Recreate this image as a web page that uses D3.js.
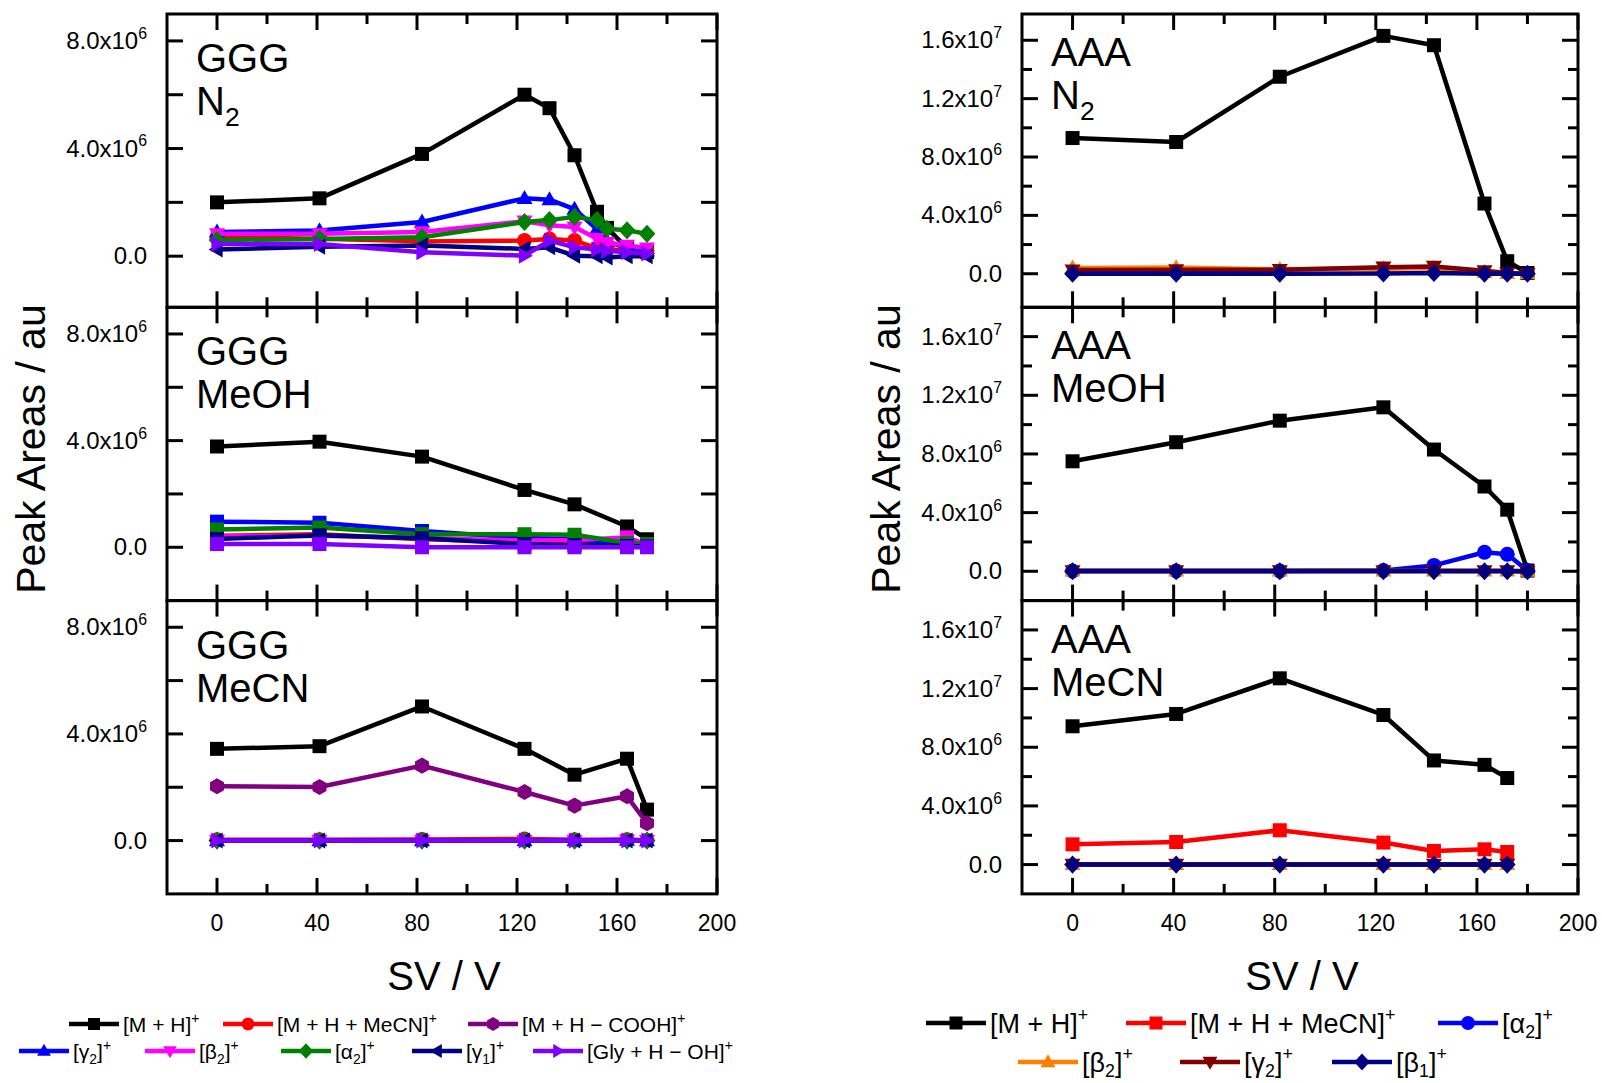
<!DOCTYPE html>
<html lang="en">
<head>
<meta charset="utf-8">
<style>
body { margin: 0; background: #fff; }
svg { display: block; font-family: "Liberation Sans", Arial, sans-serif; }
.frame { fill: none; stroke: #000; stroke-width: 3; }
.tick { stroke: #000; stroke-width: 3; }
.series path.line { fill: none; stroke-width: 4.5; stroke-linejoin: round; }
</style>
</head>
<body>
<script src="https://cdn.jsdelivr.net/npm/d3@7"></script>
<script>

// all peak areas are in units of 1e6 au

// ---- GGG, N2 ----
var gggN2SV    = [0, 41, 82, 123, 133, 143, 152, 156, 164, 172];
var gggN2MH    = [2.0, 2.15, 3.8, 6.0, 5.5, 3.75, 1.65, 1.05, 0.3, 0.15];
var gggN2MeCN  = [0.7, 0.65, 0.55, 0.58, 0.64, 0.58, 0.3, 0.25, 0.22, 0.2];
var gggN2G2    = [0.9, 0.95, 1.27, 2.15, 2.1, 1.75, 1.0, 0.55, 0.3, 0.2];
var gggN2B2    = [0.83, 0.83, 0.9, 1.3, 1.15, 1.08, 0.65, 0.5, 0.4, 0.3];
var gggN2A2    = [0.6, 0.64, 0.7, 1.27, 1.34, 1.46, 1.34, 1.02, 0.96, 0.83];
var gggN2G1    = [0.25, 0.35, 0.4, 0.27, 0.33, 0.02, 0.0, -0.05, 0.0, 0.0];
var gggN2Gly   = [0.45, 0.45, 0.15, 0.02, 0.58, 0.33, 0.25, 0.2, 0.15, 0.1];

// ---- GGG, MeOH ----
var gggMeOHSV   = [0, 41, 82, 123, 143, 164, 172];
var gggMeOHMH   = [3.78, 3.96, 3.4, 2.15, 1.61, 0.78, 0.3];
var gggMeOHMeCN = [0.43, 0.49, 0.3, 0.2, 0.2, 0.1, 0.05];
var gggMeOHG2   = [0.96, 0.92, 0.61, 0.35, 0.3, 0.1, 0.05];
var gggMeOHB2   = [0.4, 0.43, 0.35, 0.25, 0.27, 0.37, 0.1];
var gggMeOHA2   = [0.67, 0.74, 0.49, 0.49, 0.47, 0.16, 0.12];
var gggMeOHG1   = [0.31, 0.45, 0.34, 0.12, 0.08, 0.05, 0.03];
var gggMeOHGly  = [0.12, 0.12, 0.0, 0.0, 0.0, 0.0, 0.0];

// ---- GGG, MeCN ----
var gggMeCNSV   = [0, 41, 82, 123, 143, 164, 172];
var gggMeCNMH   = [3.44, 3.54, 5.03, 3.44, 2.47, 3.07, 1.16];
var gggMeCNMeCN = [0.03, 0.03, 0.04, 0.06, 0.03, 0.03, 0.01];
var gggMeCNCOOH = [2.04, 2.01, 2.81, 1.82, 1.31, 1.66, 0.65];
var gggMeCNG2   = [0.0, 0.0, 0.0, 0.0, 0.0, 0.02, 0.0];
var gggMeCNB2   = [0.01, 0.01, 0.01, 0.0, 0.0, 0.03, 0.0];
var gggMeCNA2   = [0.0, 0.0, 0.0, 0.0, 0.0, 0.0, 0.0];
var gggMeCNG1   = [0.0, 0.0, 0.0, 0.0, 0.0, 0.0, 0.0];
var gggMeCNGly  = [0.0, 0.0, 0.0, 0.0, 0.0, 0.0, 0.0];

// ---- AAA, N2 ----
var aaaN2SV   = [0, 41, 82, 123, 143, 163, 172, 180];
var aaaN2MH   = [9.3, 9.03, 13.5, 16.3, 15.66, 4.81, 0.86, 0.05];
var aaaN2B2   = [0.4, 0.42, 0.3, 0.35, 0.4, 0.1, 0.02, 0.0];
var aaaN2G2   = [0.25, 0.27, 0.28, 0.45, 0.5, 0.2, 0.05, 0.0];
var aaaN2B1   = [0.0, 0.0, 0.0, 0.02, 0.05, 0.0, 0.0, 0.0];

// ---- AAA, MeOH ----
var aaaMeOHSV = [0, 41, 82, 123, 143, 163, 172, 180];
var aaaMeOHMH = [7.5, 8.8, 10.27, 11.18, 8.3, 5.78, 4.2, 0.05];
var aaaMeOHA2 = [0.02, 0.02, 0.02, 0.05, 0.4, 1.3, 1.16, 0.05];
var aaaMeOHB2 = [0.02, 0.02, 0.02, 0.02, 0.02, 0.02, 0.02, 0.0];
var aaaMeOHG2 = [0.03, 0.03, 0.03, 0.03, 0.03, 0.03, 0.03, 0.0];
var aaaMeOHB1 = [0.0, 0.0, 0.0, 0.0, 0.0, 0.0, 0.0, 0.0];

// ---- AAA, MeCN ----
var aaaMeCNSV   = [0, 41, 82, 123, 143, 163, 172];
var aaaMeCNMH   = [9.43, 10.27, 12.7, 10.2, 7.1, 6.8, 5.9];
var aaaMeCNMeCN = [1.38, 1.54, 2.34, 1.5, 0.93, 1.04, 0.86];
var aaaMeCNB2   = [0.02, 0.02, 0.02, 0.02, 0.02, 0.02, 0.02];
var aaaMeCNG2   = [0.01, 0.01, 0.01, 0.01, 0.01, 0.01, 0.01];
var aaaMeCNB1   = [0.0, 0.0, 0.0, 0.0, 0.0, 0.0, 0.0];

// axis ticks
var xMajor = [0, 40, 80, 120, 160, 200];
var xMinor = [20, 60, 100, 140, 180];
var gggYTicks = [0, 2, 4, 6, 8];
var gggYLabels = [0, 4, 8];
var aaaYMajor = [0, 4, 8, 12, 16];
var aaaYMinor = [2, 6, 10, 14];

// series look
var gggSeries = [
  {key: "MH",   color: "#000000", shape: "square",   label: [["[M + H]", ""], ["+", "sup"]]},
  {key: "MeCN", color: "#ff0000", shape: "circle",   label: [["[M + H + MeCN]", ""], ["+", "sup"]]},
  {key: "COOH", color: "#800080", shape: "hexagon",  label: [["[M + H \u2212 COOH]", ""], ["+", "sup"]]},
  {key: "G2",   color: "#0000ff", shape: "triUp",    label: [["[\u03b3", ""], ["2", "sub"], ["]", ""], ["+", "sup"]]},
  {key: "B2",   color: "#ff00ff", shape: "triDown",  label: [["[\u03b2", ""], ["2", "sub"], ["]", ""], ["+", "sup"]]},
  {key: "A2",   color: "#008000", shape: "diamond",  label: [["[\u03b1", ""], ["2", "sub"], ["]", ""], ["+", "sup"]]},
  {key: "G1",   color: "#000080", shape: "triLeft",  label: [["[\u03b3", ""], ["1", "sub"], ["]", ""], ["+", "sup"]]},
  {key: "Gly",  color: "#8000ff", shape: "triRight", label: [["[Gly + H \u2212 OH]", ""], ["+", "sup"]]}
];
var aaaSeries = [
  {key: "MH",   color: "#000000", shape: "square",  label: [["[M + H]", ""], ["+", "sup"]]},
  {key: "MeCN", color: "#ff0000", shape: "square",  label: [["[M + H + MeCN]", ""], ["+", "sup"]]},
  {key: "A2",   color: "#0000ff", shape: "circle",  label: [["[\u03b1", ""], ["2", "sub"], ["]", ""], ["+", "sup"]]},
  {key: "B2",   color: "#ff8000", shape: "triUp",   label: [["[\u03b2", ""], ["2", "sub"], ["]", ""], ["+", "sup"]]},
  {key: "G2",   color: "#800000", shape: "triDown", label: [["[\u03b3", ""], ["2", "sub"], ["]", ""], ["+", "sup"]]},
  {key: "B1",   color: "#000080", shape: "diamond", label: [["[\u03b2", ""], ["1", "sub"], ["]", ""], ["+", "sup"]]}
];

var panels = [
  {side: "L", row: 0, sv: gggN2SV, yDomain: [-1.9, 9], title: [["GGG", ""]], title2: [["N", ""], ["2", "sub"]],
   vals: {MH: gggN2MH, MeCN: gggN2MeCN, G2: gggN2G2, B2: gggN2B2, A2: gggN2A2, G1: gggN2G1, Gly: gggN2Gly}},
  {side: "L", row: 1, sv: gggMeOHSV, yDomain: [-2, 9], title: [["GGG", ""]], title2: [["MeOH", ""]], allSquares: true,
   vals: {MH: gggMeOHMH, MeCN: gggMeOHMeCN, G2: gggMeOHG2, B2: gggMeOHB2, A2: gggMeOHA2, G1: gggMeOHG1, Gly: gggMeOHGly}},
  {side: "L", row: 2, sv: gggMeCNSV, yDomain: [-2, 9], title: [["GGG", ""]], title2: [["MeCN", ""]],
   vals: {MH: gggMeCNMH, MeCN: gggMeCNMeCN, COOH: gggMeCNCOOH, G2: gggMeCNG2, B2: gggMeCNB2, A2: gggMeCNA2, G1: gggMeCNG1, Gly: gggMeCNGly}},
  {side: "R", row: 0, sv: aaaN2SV, yDomain: [-2.3, 17.8], title: [["AAA", ""]], title2: [["N", ""], ["2", "sub"]],
   vals: {MH: aaaN2MH, B2: aaaN2B2, G2: aaaN2G2, B1: aaaN2B1}},
  {side: "R", row: 1, sv: aaaMeOHSV, yDomain: [-2, 18], title: [["AAA", ""]], title2: [["MeOH", ""]],
   vals: {MH: aaaMeOHMH, A2: aaaMeOHA2, B2: aaaMeOHB2, G2: aaaMeOHG2, B1: aaaMeOHB1}},
  {side: "R", row: 2, sv: aaaMeCNSV, yDomain: [-2, 18], title: [["AAA", ""]], title2: [["MeCN", ""]],
   vals: {MH: aaaMeCNMH, MeCN: aaaMeCNMeCN, B2: aaaMeCNB2, G2: aaaMeCNG2, B1: aaaMeCNB1}}
];

var width = 1602, height = 1083;
var top0 = 14, rowH = 293.3;

var xL = d3.scaleLinear().domain([-20, 200]).range([167, 717]);
var xR = d3.scaleLinear().domain([-20, 200]).range([1022, 1578]);

var svg = d3.select("body").append("svg")
    .attr("width", width)
    .attr("height", height);

// text with sub/superscripts
function rich(sel, parts, size, subShift) {
  var shift = 0;
  parts.forEach(function(p) {
    var target = p[1] === "sup" ? -0.42 * size : (p[1] === "sub" ? (subShift || 0.28) * size : 0);
    sel.append("tspan")
        .attr("dy", target - shift)
        .attr("font-size", p[1] ? size * 0.66 : size)
        .text(p[0]);
    shift = target;
  });
}

function shapePath(shape, r) {
  switch (shape) {
    case "square": return "M" + (-r) + "," + (-r) + "h" + 2 * r + "v" + 2 * r + "h" + (-2 * r) + "Z";
    case "circle": return d3.symbol(d3.symbolCircle, Math.PI * r * r * 1.15)();
    case "triUp": return "M0," + (-1.2 * r) + "L" + (1.15 * r) + "," + (0.8 * r) + "L" + (-1.15 * r) + "," + (0.8 * r) + "Z";
    case "triDown": return "M0," + (1.2 * r) + "L" + (1.15 * r) + "," + (-0.8 * r) + "L" + (-1.15 * r) + "," + (-0.8 * r) + "Z";
    case "triLeft": return "M" + (-1.2 * r) + ",0L" + (0.8 * r) + "," + (-1.15 * r) + "L" + (0.8 * r) + "," + (1.15 * r) + "Z";
    case "triRight": return "M" + (1.2 * r) + ",0L" + (-0.8 * r) + "," + (-1.15 * r) + "L" + (-0.8 * r) + "," + (1.15 * r) + "Z";
    case "diamond": return "M0," + (-1.3 * r) + "L" + (1.2 * r) + ",0L0," + (1.3 * r) + "L" + (-1.2 * r) + ",0Z";
    case "hexagon":
      var pts = d3.range(6).map(function(i) {
        var a = Math.PI / 2 + i * Math.PI / 3;
        return [1.15 * r * Math.cos(a), -1.15 * r * Math.sin(a)];
      });
      return "M" + pts.join("L") + "Z";
  }
}

function fmtY(v) {
  if (v === 0) return [["0.0", ""]];
  var e = Math.floor(Math.log10(v * 1e6) + 1e-9);
  var m = v * 1e6 / Math.pow(10, e);
  return [[m.toFixed(1) + "x10", ""], [String(e), "sup"]];
}

panels.forEach(function(p) {
  var x = p.side === "L" ? xL : xR;
  var yTop = top0 + p.row * rowH, yBot = yTop + rowH;
  var y = d3.scaleLinear()
      .domain(p.yDomain)
      .range([yBot, yTop]);
  var seriesDefs = p.side === "L" ? gggSeries : aaaSeries;
  var x0 = x.range()[0], x1 = x.range()[1];

  var g = svg.append("g");

  // ticks, all pointing inward
  var ticks = g.append("g");
  function xTick(v, len) {
    ticks.append("line").attr("class", "tick")
        .attr("x1", x(v)).attr("x2", x(v)).attr("y1", yBot).attr("y2", yBot - len);
    ticks.append("line").attr("class", "tick")
        .attr("x1", x(v)).attr("x2", x(v)).attr("y1", yTop).attr("y2", yTop + len);
  }
  function yTick(v, len) {
    ticks.append("line").attr("class", "tick")
        .attr("x1", x0).attr("x2", x0 + len).attr("y1", y(v)).attr("y2", y(v));
    ticks.append("line").attr("class", "tick")
        .attr("x1", x1).attr("x2", x1 - len).attr("y1", y(v)).attr("y2", y(v));
  }
  xMajor.forEach(function(v) { xTick(v, 16); });
  xMinor.forEach(function(v) { xTick(v, 10); });
  if (p.side === "L") {
    gggYTicks.forEach(function(v) { yTick(v, 16); });
  } else {
    aaaYMajor.forEach(function(v) { yTick(v, 16); });
    aaaYMinor.forEach(function(v) { yTick(v, 10); });
  }

  // y tick labels
  var yLabels = p.side === "L" ? gggYLabels : aaaYMajor;
  yLabels.forEach(function(v) {
    var t = g.append("text")
        .attr("x", x0 - 20)
        .attr("y", y(v) + 8)
        .attr("text-anchor", "end")
        .attr("font-size", 24);
    rich(t, fmtY(v), 24);
  });

  // x tick labels only under bottom panel
  if (p.row === 2) {
    xMajor.forEach(function(v) {
      g.append("text")
          .attr("x", x(v))
          .attr("y", yBot + 37)
          .attr("text-anchor", "middle")
          .attr("font-size", 23)
          .text(v);
    });
  }

  // series
  var line = d3.line()
      .x(function(d) { return x(d[0]); })
      .y(function(d) { return y(d[1]); });

  seriesDefs.forEach(function(s) {
    var vals = p.vals[s.key];
    if (!vals) return;
    var pts = p.sv.map(function(sv, i) { return [sv, vals[i]]; });
    var sg = g.append("g").attr("class", "series");
    sg.append("path")
        .attr("class", "line")
        .attr("stroke", s.color)
        .attr("d", line(pts));
    var shape = p.allSquares ? "square" : s.shape;
    sg.selectAll("path.mk")
        .data(pts)
        .enter().append("path")
        .attr("class", "mk")
        .attr("fill", s.color)
        .attr("transform", function(d) { return "translate(" + x(d[0]) + "," + y(d[1]) + ")"; })
        .attr("d", shapePath(shape, 7));
  });

  // frame
  g.append("rect").attr("class", "frame")
      .attr("x", x0).attr("y", yTop)
      .attr("width", x1 - x0).attr("height", rowH);

  // panel label
  var lx = p.side === "L" ? 196 : 1051;
  var ly = yTop + (p.side === "L" ? 58 : 52);
  rich(g.append("text").attr("x", lx).attr("y", ly).attr("font-size", 40), p.title, 40);
  rich(g.append("text").attr("x", lx).attr("y", ly + 43).attr("font-size", 40), p.title2, 40);
});

// axis titles
[[xL, 45], [xR, 900]].forEach(function(a) {
  var sc = a[0];
  svg.append("text")
      .attr("x", (sc.range()[0] + sc.range()[1]) / 2 + 2)
      .attr("y", 990)
      .attr("text-anchor", "middle")
      .attr("font-size", 40)
      .text("SV / V");
  svg.append("text")
      .attr("transform", "translate(" + a[1] + ",449) rotate(-90)")
      .attr("text-anchor", "middle")
      .attr("font-size", 41)
      .text("Peak Areas / au");
});

// legends
function legend(defs, rows, lineLen, size, r, subShift) {
  rows.forEach(function(row) {
    row.items.forEach(function(it) {
      var s = defs.filter(function(d) { return d.key === it.key; })[0];
      var lg = svg.append("g");
      lg.append("line")
          .attr("x1", it.x).attr("x2", it.x + lineLen)
          .attr("y1", row.y).attr("y2", row.y)
          .attr("stroke", s.color).attr("stroke-width", 4.5);
      lg.append("path")
          .attr("fill", s.color)
          .attr("transform", "translate(" + (it.x + lineLen / 2) + "," + row.y + ")")
          .attr("d", shapePath(s.shape, r));
      var t = lg.append("text")
          .attr("x", it.x + lineLen + 4)
          .attr("y", row.y + size * 0.36)
          .attr("font-size", size);
      rich(t, s.label, size, subShift);
    });
  });
}

legend(gggSeries, [
  {y: 1024, items: [{key: "MH", x: 69}, {key: "MeCN", x: 223}, {key: "COOH", x: 468}]},
  {y: 1051, items: [{key: "G2", x: 19}, {key: "B2", x: 145}, {key: "A2", x: 281}, {key: "G1", x: 412}, {key: "Gly", x: 533}]}
], 50, 21, 6, 0.25);

legend(aaaSeries, [
  {y: 1023, items: [{key: "MH", x: 926}, {key: "MeCN", x: 1126}, {key: "A2", x: 1438}]},
  {y: 1062, items: [{key: "B2", x: 1018}, {key: "G2", x: 1180}, {key: "B1", x: 1332}]}
], 60, 27, 6.5, 0.2);

</script>
</body>
</html>
